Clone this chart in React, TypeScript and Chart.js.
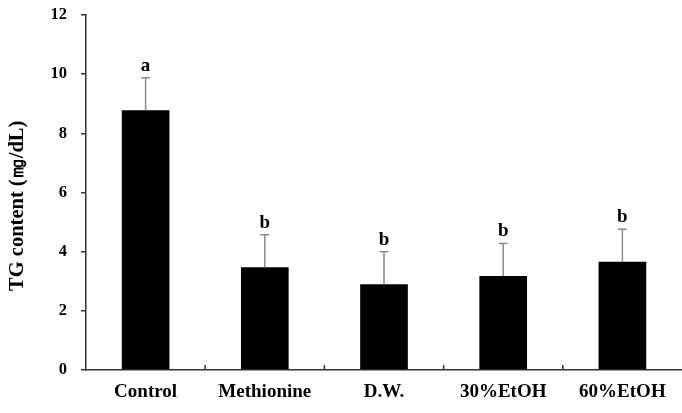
import React, { useEffect, useRef } from "react";
import { Chart, registerables } from "chart.js";

Chart.register(...registerables);

// Triglyceride content by treatment group (mean ± SD)
const groups = ["Control", "Methionine", "D.W.", "30%EtOH", "60%EtOH"];
const tgMeans = [8.78, 3.47, 2.9, 3.18, 3.66];
const tgSD = [1.1, 1.1, 1.1, 1.1, 1.1];
const sigLetters = ["a", "b", "b", "b", "b"];
const yTicks = [0, 2, 4, 6, 8, 10, 12];
const yTitle = "TG content (㎎/dL)";

const FONT = "'Liberation Serif', 'Times New Roman', serif";

// Draws the upward error whiskers, significance letters, the small
// inward category separators on the x axis and the rotated y title.
const annotations = {
  id: "annotations",
  afterDatasetsDraw(chart: any) {
    const { ctx, scales, chartArea } = chart;
    const y = scales.y;
    const x = scales.x;
    const meta = chart.getDatasetMeta(0);
    ctx.save();
    meta.data.forEach((bar: any, i: number) => {
      const cx = bar.x;
      const yBar = y.getPixelForValue(tgMeans[i]);
      const yTop = y.getPixelForValue(tgMeans[i] + tgSD[i]);
      ctx.strokeStyle = "#8a8a8a";
      ctx.lineWidth = 1.5;
      ctx.beginPath();
      ctx.moveTo(cx, yBar);
      ctx.lineTo(cx, yTop);
      ctx.moveTo(cx - 4.5, yTop);
      ctx.lineTo(cx + 4.5, yTop);
      ctx.stroke();

      ctx.fillStyle = "#000";
      ctx.font = `bold 19px ${FONT}`;
      ctx.textAlign = "center";
      ctx.textBaseline = "alphabetic";
      ctx.fillText(sigLetters[i], cx, yTop - 7);
    });

    // category separators
    ctx.strokeStyle = "#333";
    ctx.lineWidth = 1.5;
    ctx.beginPath();
    for (let i = 0; i < groups.length - 1; i++) {
      const sx = (x.getPixelForValue(i) + x.getPixelForValue(i + 1)) / 2;
      ctx.moveTo(sx, chartArea.bottom);
      ctx.lineTo(sx, chartArea.bottom - 5);
    }
    ctx.stroke();

    // y axis title, set slightly below the middle of the axis
    ctx.translate(18, y.getPixelForValue(5.55));
    ctx.rotate(-Math.PI / 2);
    ctx.fillStyle = "#000";
    ctx.font = `bold 20.5px ${FONT}`;
    ctx.textAlign = "center";
    ctx.textBaseline = "middle";
    ctx.fillText(yTitle, 0, 0);
    ctx.restore();
  },
};

export default function App() {
  const canvasRef = useRef<HTMLCanvasElement | null>(null);

  useEffect(() => {
    const canvas = canvasRef.current;
    if (!canvas) return;
    const chart = new Chart(canvas, {
      type: "bar",
      data: {
        labels: groups,
        datasets: [
          {
            data: tgMeans,
            backgroundColor: "#000",
            borderWidth: 0,
            categoryPercentage: 1,
            barPercentage: 0.4,
          },
        ],
      },
      options: {
        responsive: false,
        animation: false,
        layout: { padding: { top: 15, right: -3, bottom: 0, left: 0 } },
        plugins: {
          legend: { display: false },
          tooltip: { enabled: false },
        },
        scales: {
          x: {
            grid: { display: false, drawTicks: false },
            border: { display: true, color: "#333", width: 1.5 },
            ticks: {
              color: "#000",
              padding: 11,
              font: { family: FONT, size: 19, weight: "bold" },
            },
            afterFit(scale: any) {
              scale.height = 43;
              scale.paddingLeft = 0;
              scale.paddingRight = 0;
            },
          },
          y: {
            min: 0,
            max: 12,
            afterBuildTicks(scale: any) {
              scale.ticks = yTicks.map((v) => ({ value: v }));
            },
            grid: {
              drawOnChartArea: false,
              drawTicks: true,
              tickLength: 5,
              color: "#333",
              lineWidth: 1.5,
            },
            border: { display: true, color: "#333", width: 1.5 },
            ticks: {
              color: "#000",
              padding: 14,
              font: { family: FONT, size: 16.5, weight: "bold" },
            },
            afterFit(scale: any) {
              scale.width = 86;
              scale.paddingTop = 0;
              scale.paddingBottom = 0;
            },
          },
        },
      },
      plugins: [annotations],
    });
    return () => chart.destroy();
  }, []);

  return (
    <div style={{ position: "fixed", left: 0, top: 0, width: 682, height: 413, background: "#fff" }}>
      <canvas ref={canvasRef} width={682} height={413} style={{ display: "block" }} />
    </div>
  );
}
